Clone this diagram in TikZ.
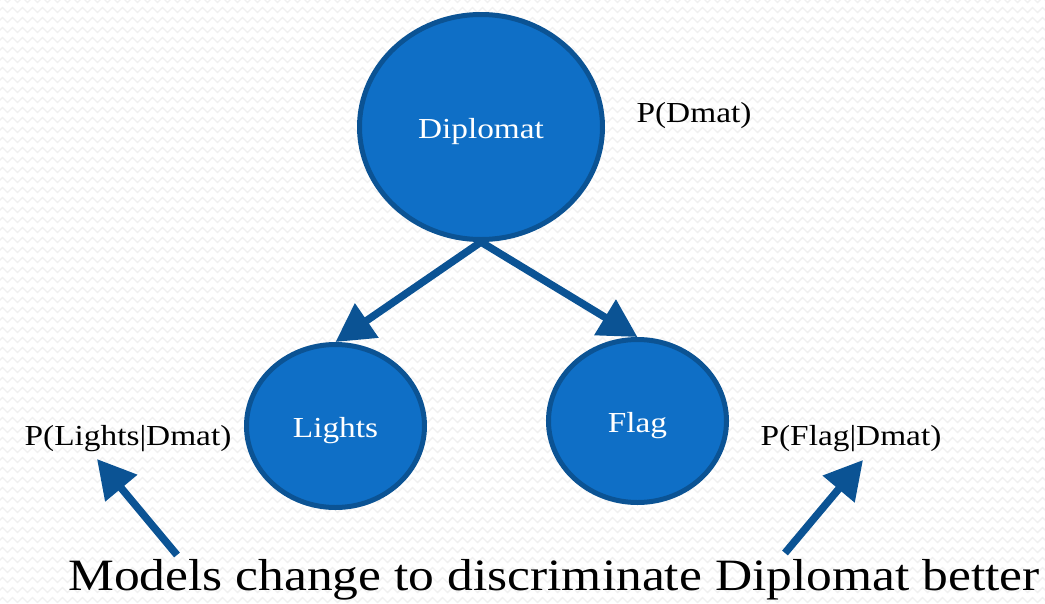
\documentclass[tikz,border=0pt]{standalone}
\usepackage{fontspec}
\setmainfont[FakeStretch=1.15]{Liberation Serif}
\usetikzlibrary{shapes.geometric,arrows.meta,decorations.pathmorphing}

\definecolor{nodefill}{HTML}{0F6FC6}
\definecolor{nodeedge}{HTML}{0B5394}
\definecolor{paper}{HTML}{FFFFFF}
\definecolor{weave}{HTML}{F0F0F0}

\tikzset{
  varnode/.style={ellipse, draw=nodeedge, fill=nodefill, line width=5pt,
    inner sep=0pt, text=white, text height=22pt, text depth=0pt,
    font=\fontsize{29}{34}\selectfont},
  problabel/.style={anchor=base, inner sep=0pt, font=\fontsize{29}{34}\selectfont},
  edgearrow/.style={draw=nodeedge, line width=7.5pt,
    -{Triangle[length=38pt,width=40pt]}},
}

\begin{document}
\begin{tikzpicture}[x=1pt,y=-1pt]
  \useasboundingbox (0,0) rectangle (1045,603);
  % textured background
  \fill[paper] (0,0) rectangle (1045,603);
  \begin{scope}
    \clip (0,0) rectangle (1045,603);
    \foreach \r in {0,10,...,610}
      \draw[weave, line width=1.4pt, decorate,
            decoration={zigzag, segment length=10pt, amplitude=2.5pt}]
        (-10,\r) -- (1060,\r);
  \end{scope}

  % network nodes
  \node[varnode, minimum width=243pt, minimum height=225pt] (dip) at (481,127) {Diplomat};
  \node[varnode, minimum width=178pt, minimum height=163pt] (lights) at (335.5,426) {Lights};
  \node[varnode, minimum width=178pt, minimum height=163pt] (flag) at (637.5,421) {Flag};

  % dependencies
  \draw[edgearrow] (dip.south) -- (lights.north);
  \draw[edgearrow] (dip.south) -- (flag.north);

  % probability labels
  \node[problabel] (pd) at (694,122) {P(Dmat)};
  \node[problabel] (pl) at (128,445) {P(Lights|Dmat)};
  \node[problabel] (pf) at (851,445) {P(Flag|Dmat)};

  % caption and pointers
  \node[anchor=base, inner sep=0pt, font=\fontsize{44.8}{50}\selectfont] (cap) at (554,590)
    {Models change to discriminate Diplomat better};
  \coordinate (la) at (177,555);
  \coordinate (lb) at (97,459);
  \coordinate (ra) at (785,553);
  \coordinate (rb) at (863,460);
  \draw[edgearrow] (la) -- (lb);
  \draw[edgearrow] (ra) -- (rb);
\end{tikzpicture}
\end{document}
